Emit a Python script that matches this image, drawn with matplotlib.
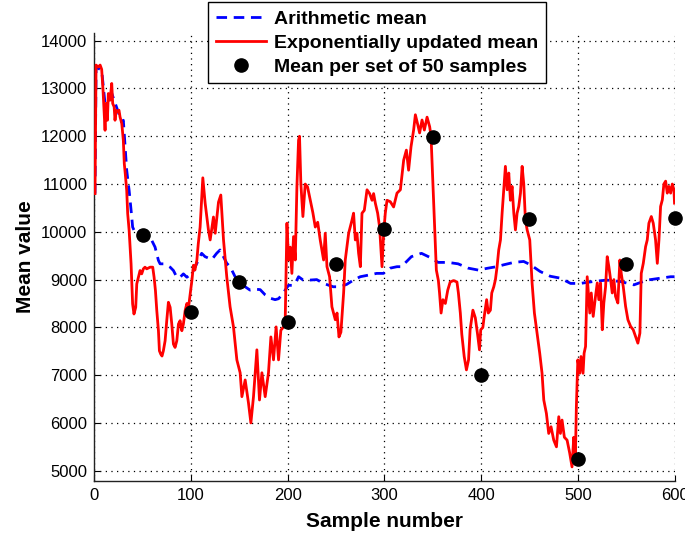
import numpy as np
import matplotlib
matplotlib.use("Agg")
import matplotlib.pyplot as plt

# exponentially updated mean (sample number, value)
exp_x = [0.7, 1.8, 4, 6, 7.6, 9, 11.1, 12, 13.5, 14.5, 16.3, 18, 19, 20.5, 21.4, 22.5, 24, 25.5,
         26.6, 28.4, 30, 31, 32, 33.5, 34.5, 36, 37, 38, 38.7, 39.6, 41, 42.8, 43.9, 45.6, 47.3, 49,
         50.7, 52.4, 54.2, 57.7, 60.4, 61.8, 63.2, 64.6, 66.3, 67.3, 68.7, 70, 71.4, 73.2, 74.9,
         76.6, 78.4, 80.1, 81.8, 83.5, 85.3, 87, 88.7, 90.5, 92.1, 93.9, 95.7, 97.3, 99.1, 101,
         102.5, 104, 106, 107.5, 109.4, 111, 112.2, 114.6, 118, 119.8, 123.2, 125, 128.4, 130.8,
         133.6, 137, 140.4, 143.9, 147.4, 150.8, 152.6, 156, 159.4, 161.9, 164.6, 168.1, 170.8,
         173.3, 176.7, 180.1, 182.6, 185.3, 188, 190.5, 192.9, 195.7, 197.4, 199.2, 200.8, 202.6,
         204.3, 206, 207.8, 209.5, 211.2, 212.2, 213.6, 215.7, 218.1, 220.5, 223.3, 226, 228.5,
         231, 233.6, 237.1, 238.8, 240.6, 243.3, 245.7, 249.2, 251, 253, 255, 257.8, 259.5, 263,
         266.4, 268.1, 269.9, 271.6, 273.3, 275.1, 276.8, 279.2, 282, 284.7, 287.2, 288.8, 290.6,
         293, 295, 297.5, 299.2, 300.9, 302.7, 306.1, 309.5, 313, 316.5, 319.9, 322.7, 325, 327.5,
         330.2, 332, 334.4, 336.4, 338.9, 341.3, 344.1, 346.8, 348.2, 350.3, 352, 353.7, 355.8,
         357, 358.6, 360.5, 363, 365.5, 368, 371.5, 375, 376.5, 378.5, 380, 382.5, 384.8, 387,
         388.6, 391.5, 394, 396.3, 398.3, 399.6, 401.8, 403, 405.7, 407.4, 409.6, 411, 413.1,
         414.8, 416.5, 418.2, 420, 421.7, 423.4, 425.1, 426.9, 428.6, 430.3, 432, 433.8, 435.5,
         437.2, 438.9, 440.7, 442.4, 444.1, 445.8, 447.6, 450.3, 452.7, 455.1, 457.9, 460.6, 463,
         464.8, 467.5, 469.9, 472.3, 475.1, 477.9, 480.3, 482, 483.7, 486.1, 488.9, 491.6, 494,
         495.8, 497.5, 498.5, 500, 502, 503.3, 505.4, 506.5, 508, 509.7, 512.4, 513.9, 515.9,
         518.3, 520.1, 521.7, 523.5, 525.3, 526.9, 528.7, 530.4, 532.1, 533.9, 535.6, 537.3, 539,
         541.4, 543.5, 544.9, 547, 549.4, 551.8, 554.6, 557.3, 559.7, 562.1, 564.2, 565.6, 567.7,
         570.1, 571.8, 573.5, 576, 578, 580.4, 582.2, 583.9, 585.6, 587.4, 589, 590.8, 592.5,
         594.2, 596, 597.7, 599.4, 600]
exp_y = [10800, 13490, 13450, 13490, 13400, 12965, 12125, 12685, 12335, 12895, 12755, 13105, 12685,
         12615, 12335, 12545, 12510, 12545, 12405, 12265, 11915, 11425, 11215, 10865, 10380, 10030,
         9680, 9330, 8980, 8490, 8280, 8420, 8910, 9050, 9190, 9120, 9225, 9260, 9225, 9260, 9260,
         9050, 8770, 8350, 7930, 7510, 7440, 7400, 7510, 7720, 8140, 8525, 8420, 8070, 7650, 7580,
         7720, 8070, 8140, 7930, 8070, 8350, 8500, 8400, 8700, 9000, 9300, 9200, 9400, 9750, 10100,
         10700, 11130, 10600, 10040, 9830, 10310, 9970, 10620, 10770, 9830, 9050, 8430, 8010, 7320,
         7050, 6550, 6900, 6420, 6000, 6550, 7530, 6480, 7050, 6550, 7050, 7800, 7320, 8010, 7320,
         7940, 8010, 8150, 10180, 9410, 9680, 9130, 9900, 9410, 10940, 11920, 12000, 11000, 10320,
         11000, 10940, 10660, 10400, 10100, 10200, 9830, 9410, 9970, 9270, 9060, 8430, 8160, 8300,
         7800, 7900, 8720, 9410, 9970, 10240, 10390, 9830, 9970, 9550, 9270, 10390, 10450, 10880,
         10800, 10660, 10800, 10600, 10390, 10100, 9270, 9970, 10390, 10660, 10630, 10520, 10810,
         10880, 11500, 11710, 11290, 11780, 12130, 12450, 12250, 12070, 12340, 12130, 12400, 12200,
         12000, 10940, 10100, 9200, 8980, 8720, 8300, 8580, 8500, 8780, 8950, 8980, 8950, 8720,
         8300, 7860, 7390, 7110, 7320, 7950, 8360, 8200, 7860, 7530, 7950, 8000, 8200, 8580, 8300,
         8360, 8720, 8850, 9000, 9270, 9620, 9830, 10390, 10880, 11370, 10880, 11230, 10660, 10950,
         10390, 10040, 10390, 10530, 10810, 11370, 11000, 10250, 10040, 9830, 8930, 8300, 7880,
         7460, 7040, 6480, 6200, 5780, 5920, 5640, 5500, 6130, 5780, 6060, 5700, 5640, 5370, 5080,
         5700, 5300, 6340, 7320, 7040, 7390, 7040, 7460, 7600, 9060, 8300, 8720, 8230, 8650, 8930,
         8580, 8930, 7950, 8510, 8850, 9480, 9270, 9000, 8720, 9000, 8650, 8510, 9410, 9130, 8850,
         8440, 8160, 8020, 7950, 7810, 7670, 7880, 9130, 9340, 9690, 9830, 10180, 10320, 10180,
         9830, 9340, 9830, 10530, 10670, 11000, 11060, 10810, 10950, 10810, 11000, 10880, 10600]

# arithmetic (running) mean
arith_x = [0.7, 1.8, 7.6, 11, 18, 24, 28.4, 30, 33.5, 36, 38.7, 39.6, 42, 45.5, 49, 52.4, 55.9,
           59.4, 62.8, 66.3, 68, 71.4, 74.9, 78.4, 81.8, 85.3, 88.7, 92.1, 95.7, 99.1, 102.5, 106,
           111, 114.5, 118, 121.5, 126.5, 130, 133.5, 137, 140.4, 145.6, 151, 156, 161, 166, 171.5,
           176.7, 182, 187, 190.5, 194, 197.4, 200.8, 204.3, 207.8, 211.2, 216, 223, 230, 237,
           247, 254, 261, 268, 275, 285, 292, 299, 306, 313, 317.6, 327.9, 338.3, 348.6, 355.5,
           365.9, 376.2, 386.6, 396.9, 407.3, 415.9, 423.4, 433.8, 444, 451, 461, 471.5, 482,
           492.5, 502.6, 516, 530, 544, 558, 571.8, 585.6, 596, 600]
arith_y = [10800, 13450, 13380, 12700, 12900, 12550, 12300, 12335, 11285, 10865, 10310, 10100,
           9990, 10030, 9960, 9925, 9890, 9820, 9680, 9400, 9330, 9330, 9300, 9260, 9190, 9050,
           9050, 9120, 9050, 9100, 9190, 9340, 9550, 9480, 9450, 9420, 9550, 9620, 9480, 9340,
           9270, 9060, 9000, 8850, 8780, 8800, 8790, 8680, 8610, 8580, 8600, 8680, 8780, 8880,
           8880, 8920, 9060, 8990, 8990, 9000, 8920, 8850, 8850, 8900, 8990, 9060, 9100, 9130,
           9130, 9240, 9270, 9270, 9480, 9550, 9450, 9360, 9360, 9330, 9240, 9200, 9240, 9270,
           9310, 9360, 9380, 9310, 9170, 9070, 9030, 8920, 8920, 8960, 8990, 8960, 8890, 8990,
           9030, 9060, 9060]

# mean of each block of 50 samples
set_x = [50, 100, 150, 200, 250, 300, 350, 400, 450, 500, 550, 600]
set_y = [9930, 8320, 8950, 8120, 9330, 10060, 11980, 7000, 10260, 5250, 9320, 10290]

tick_font = ['Liberation Sans Narrow', 'Liberation Sans', 'DejaVu Sans']
bold_font = ['Liberation Sans', 'DejaVu Sans']

fig = plt.figure(figsize=(6.85, 5.35), dpi=100)
ax = fig.add_axes([0.1377, 0.1015, 0.847, 0.8368])

ax.plot(arith_x, arith_y, color='#0000ff', linestyle='--', linewidth=2.0,
        dashes=(3.8, 2.4), label='Arithmetic mean', zorder=2)
ax.plot(exp_x, exp_y, color='#ff0000', linewidth=2.0,
        label='Exponentially updated mean', zorder=3)
ax.plot(set_x, set_y, linestyle='none', marker='o', markersize=9.5,
        color='black', label='Mean per set of 50 samples', zorder=4, clip_on=False)

ax.set_xlim(0, 600)
ax.set_ylim(4791, 14161)
ax.set_xticks(np.arange(0, 601, 100))
ax.set_yticks(np.arange(5000, 14001, 1000))

ax.grid(True, color='black', linestyle=(0, (1, 3.5)), linewidth=0.9)
ax.spines['top'].set_visible(False)
ax.spines['right'].set_visible(False)
for s in ['left', 'bottom']:
    ax.spines[s].set_linewidth(1.0)
    ax.spines[s].set_color('#222222')
ax.tick_params(direction='in', length=4, width=0.8, labelsize=12, pad=5)
for lbl in ax.get_xticklabels() + ax.get_yticklabels():
    lbl.set_family(tick_font)

ax.set_xlabel('Sample number', fontsize=15, fontweight='bold', family=bold_font, labelpad=7)
ax.set_ylabel('Mean value', fontsize=15, fontweight='bold', family=bold_font, labelpad=4)

leg = ax.legend(loc='upper left', bbox_to_anchor=(0.196, 1.069), fancybox=False,
                framealpha=1, edgecolor='black', handlelength=2.6, handletextpad=0.4,
                borderpad=0.4, labelspacing=0.33, borderaxespad=0,
                prop={'family': bold_font, 'weight': 'bold', 'size': 14})
leg.get_frame().set_linewidth(1.0)

fig.savefig('out.png', dpi=100)
